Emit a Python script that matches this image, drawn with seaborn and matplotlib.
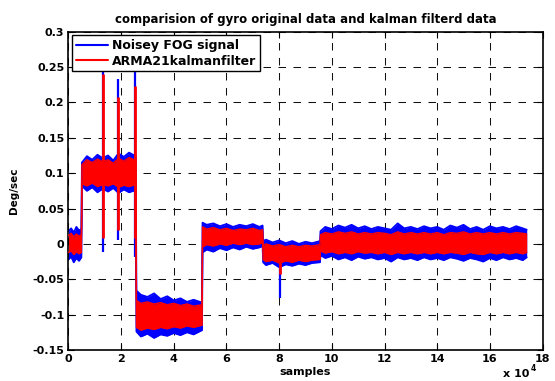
import numpy as np
import pandas as pd
import matplotlib
matplotlib.use("Agg")
import matplotlib.pyplot as plt
from matplotlib.lines import Line2D
from matplotlib.ticker import FuncFormatter
import seaborn as sns

# ---------------- data ----------------
# sample positions of the envelope readings
samples = [
    0, 1000, 2000, 3000, 4000, 4900,
    5100, 7000, 9000, 11000, 13000, 15000, 17000, 19000, 21000, 23000, 25500,
    25800, 27500, 30000, 32500, 35000, 37500, 40000, 42500, 45000, 47500, 50700,
    50900, 52500, 55000, 57500, 60000, 62500, 65000, 67500, 70000, 72500, 73700,
    73900, 75000, 77500, 80000, 82500, 85000, 87500, 90000, 92500, 95500,
    95700, 97500, 100000, 102500, 105000, 107500, 110000, 112500, 115000, 117500,
    120000, 122500, 125000, 127500, 130000, 132500, 135000, 137500, 140000, 142500,
    145000, 147500, 150000, 152500, 155000, 157500, 160000, 162500, 165000, 167500,
    170000, 172500, 174000,
]
# upper / lower envelope of the noisy FOG signal (Deg/sec)
noisy_hi = [
    0.018, 0.022, 0.016, 0.024, 0.019, 0.021,
    0.115, 0.124, 0.119, 0.126, 0.121, 0.125, 0.118, 0.128, 0.123, 0.129, 0.124,
    -0.066, -0.072, -0.075, -0.070, -0.078, -0.074, -0.080, -0.077, -0.082, -0.079, -0.083,
    0.030, 0.027, 0.029, 0.025, 0.028, 0.024, 0.027, 0.025, 0.028, 0.024, 0.026,
    0.004, 0.006, 0.002, 0.005, 0.001, 0.004, 0.000, 0.003, 0.001, 0.004,
    0.018, 0.024, 0.021, 0.026, 0.023, 0.027, 0.022, 0.025, 0.021, 0.024,
    0.022, 0.020, 0.029, 0.022, 0.024, 0.021, 0.025, 0.022, 0.024, 0.020,
    0.026, 0.023, 0.027, 0.021, 0.024, 0.020, 0.025, 0.022, 0.024, 0.021,
    0.025, 0.022, 0.020,
]
noisy_lo = [
    -0.022, -0.018, -0.026, -0.020, -0.024, -0.019,
    0.082, 0.075, 0.080, 0.073, 0.078, 0.074, 0.079, 0.072, 0.077, 0.073, 0.076,
    -0.124, -0.131, -0.127, -0.133, -0.128, -0.130, -0.126, -0.129, -0.125, -0.128, -0.122,
    -0.012, -0.008, -0.011, -0.006, -0.009, -0.005, -0.008, -0.004, -0.007, -0.005, -0.003,
    -0.026, -0.030, -0.027, -0.033, -0.029, -0.031, -0.028, -0.030, -0.027, -0.026,
    -0.016, -0.020, -0.017, -0.022, -0.019, -0.023, -0.018, -0.021, -0.019, -0.022,
    -0.020, -0.025, -0.019, -0.022, -0.020, -0.023, -0.019, -0.022, -0.020, -0.023,
    -0.019, -0.021, -0.024, -0.020, -0.022, -0.025, -0.020, -0.023, -0.019, -0.022,
    -0.020, -0.023, -0.019,
]
# upper / lower envelope of the ARMA21 Kalman filtered signal (Deg/sec)
kalman_hi = [
    0.012, 0.015, 0.010, 0.014, 0.011, 0.013,
    0.112, 0.119, 0.115, 0.120, 0.116, 0.119, 0.114, 0.121, 0.117, 0.122, 0.118,
    -0.080, -0.084, -0.082, -0.085, -0.083, -0.086, -0.084, -0.087, -0.085, -0.088, -0.086,
    0.024, 0.021, 0.023, 0.020, 0.022, 0.019, 0.021, 0.020, 0.022, 0.019, 0.020,
    -0.002, 0.000, -0.003, -0.001, -0.004, -0.002, -0.004, -0.002, -0.003, -0.001,
    0.013, 0.016, 0.014, 0.017, 0.015, 0.017, 0.014, 0.016, 0.014, 0.016,
    0.015, 0.013, 0.017, 0.014, 0.016, 0.014, 0.016, 0.014, 0.016, 0.013,
    0.016, 0.015, 0.017, 0.014, 0.016, 0.014, 0.016, 0.014, 0.016, 0.014,
    0.016, 0.015, 0.014,
]
kalman_lo = [
    -0.012, -0.010, -0.015, -0.011, -0.014, -0.012,
    0.085, 0.082, 0.086, 0.081, 0.084, 0.082, 0.085, 0.080, 0.083, 0.081, 0.084,
    -0.118, -0.122, -0.119, -0.121, -0.118, -0.120, -0.117, -0.119, -0.116, -0.118, -0.115,
    -0.004, -0.001, -0.003, 0.000, -0.002, 0.001, -0.001, 0.001, -0.001, 0.000, 0.002,
    -0.022, -0.025, -0.023, -0.027, -0.024, -0.026, -0.023, -0.025, -0.023, -0.022,
    -0.010, -0.013, -0.011, -0.014, -0.012, -0.014, -0.011, -0.013, -0.012, -0.014,
    -0.012, -0.015, -0.012, -0.014, -0.012, -0.014, -0.012, -0.014, -0.012, -0.014,
    -0.012, -0.013, -0.015, -0.012, -0.014, -0.015, -0.012, -0.014, -0.012, -0.014,
    -0.012, -0.014, -0.012,
]
# isolated spikes
spike_samples = [13000, 18700, 25300, 80400]
spike_noisy_hi = [0.270, 0.233, 0.270, 0.000]
spike_noisy_lo = [-0.012, 0.006, -0.018, -0.076]
spike_kalman_hi = [0.240, 0.208, 0.223, -0.010]
spike_kalman_lo = [0.009, 0.019, 0.009, -0.043]

series_names = ["Noisey FOG signal", "ARMA21kalmanfilter"]
xticks = [0, 20000, 40000, 60000, 80000, 100000, 120000, 140000, 160000, 180000]
yticks = [-0.15, -0.1, -0.05, 0, 0.05, 0.1, 0.15, 0.2, 0.25, 0.3]
ytick_labels = ["-0.15", "-0.1", "-0.05", "0", "0.05", "0.1", "0.15", "0.2", "0.25", "0.3"]

assert len(samples) == len(noisy_hi) == len(noisy_lo) == len(kalman_hi) == len(kalman_lo)

# ---------------- style ----------------
sns.set_theme(style="white")
plt.rcParams["font.family"] = ["DejaVu Sans"]
plt.rcParams["font.weight"] = "bold"
plt.rcParams["lines.scale_dashes"] = False
plt.rcParams["text.color"] = "black"
plt.rcParams["axes.labelcolor"] = "black"
plt.rcParams["xtick.color"] = "black"
plt.rcParams["ytick.color"] = "black"

BLUE = "#0000ff"
RED = "#ff0000"
FS = 8

fig = plt.figure(figsize=(5.55, 3.81), dpi=100)
ax = fig.add_axes([0.1234, 0.0814, 0.8541, 0.8354])

df = pd.DataFrame({"samples": samples, "noisy_hi": noisy_hi, "noisy_lo": noisy_lo,
                   "kalman_hi": kalman_hi, "kalman_lo": kalman_lo})

# noisy signal band
ax.fill_between(df["samples"], df["noisy_lo"], df["noisy_hi"], color=BLUE, lw=0, zorder=2)
for col in ["noisy_hi", "noisy_lo"]:
    sns.lineplot(data=df, x="samples", y=col, color=BLUE, lw=1.3, ax=ax,
                 estimator=None, sort=False, zorder=2)
ax.vlines(spike_samples, spike_noisy_lo, spike_noisy_hi, color=BLUE, lw=1.6, zorder=2)

# filtered signal band
ax.fill_between(df["samples"], df["kalman_lo"], df["kalman_hi"], color=RED, lw=0, zorder=3)
for col in ["kalman_hi", "kalman_lo"]:
    sns.lineplot(data=df, x="samples", y=col, color=RED, lw=1.0, ax=ax,
                 estimator=None, sort=False, zorder=3)
ax.vlines(spike_samples, spike_kalman_lo, spike_kalman_hi, color=RED, lw=2.0, zorder=3)

# axes
ax.set_xlim(0, 180000)
ax.set_ylim(-0.15, 0.3)
ax.set_xticks(xticks)
ax.xaxis.set_major_formatter(FuncFormatter(lambda v, p: f"{v / 1e4:g}"))
ax.set_yticks(yticks)
ax.set_yticklabels(ytick_labels)
ax.set_axisbelow(True)
ax.grid(True, color="#111111", linestyle=(0, (5.4, 5.4)), linewidth=0.75)
ax.tick_params(direction="in", top=True, right=True, bottom=True, left=True,
               length=4, width=0.8, labelsize=FS, pad=3, colors="black")
for lab in ax.get_xticklabels() + ax.get_yticklabels():
    lab.set_fontweight("bold")
for sp in ax.spines.values():
    sp.set_color("black")
    sp.set_linewidth(1.2)
    sp.set_visible(True)

ax.set_title("comparision of gyro original data and kalman filterd data",
             fontsize=8.5, fontweight="bold", pad=6, color="black")
ax.set_xlabel("samples", fontsize=FS, fontweight="bold", labelpad=2)
ax.set_ylabel("Deg/sec", fontsize=7.5, fontweight="bold", labelpad=10)

fig.text(503 / 555, (381 - 369) / 381, "x 10", fontsize=FS, fontweight="bold",
         va="top", ha="left", color="black")
fig.text(531 / 555, (381 - 364) / 381, "4", fontsize=FS - 2.5, fontweight="bold",
         va="top", ha="left", color="black")

handles = [Line2D([0], [0], color=BLUE, lw=1.5), Line2D([0], [0], color=RED, lw=1.5)]
leg = ax.legend(handles, series_names, loc="upper left", frameon=True, fancybox=False,
                edgecolor="black", framealpha=1, borderaxespad=0.3, handlelength=2.6,
                handletextpad=0.3, labelspacing=0.2, borderpad=0.3,
                prop={"weight": "bold", "size": 9})
leg.get_frame().set_linewidth(1.0)
leg.set_zorder(10)
for t in leg.get_texts():
    t.set_color("black")

fig.savefig("out.png", dpi=100)
